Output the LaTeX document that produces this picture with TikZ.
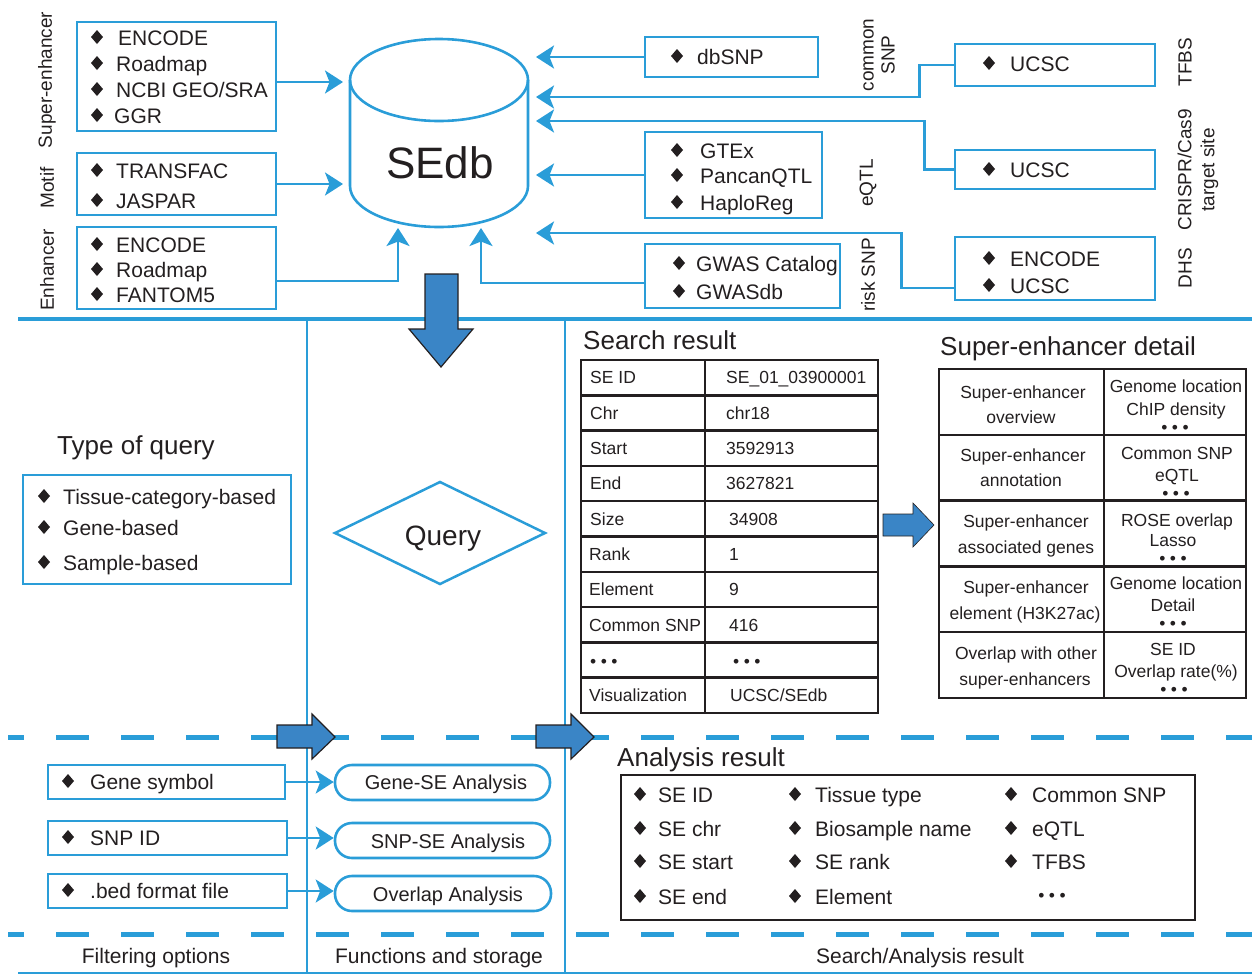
\documentclass[tikz,border=0pt]{standalone}
\usepackage{fontspec}
\setmainfont{Liberation Sans}
\usetikzlibrary{arrows.meta,calc}
\definecolor{lblue}{RGB}{42,157,216}
\definecolor{afill}{RGB}{58,133,198}
\definecolor{ink}{RGB}{35,31,32}
\newcounter{nc}
\newcommand\tx[4][]{\stepcounter{nc}\node[#1] (n\arabic{nc}) at (#2,#3) {#4};}
\newcommand\itm[5][t21]{\fill[ink] (#2,#3-1) -- (#2+6,#3-8) -- (#2+12,#3-1) -- (#2+6,#3+6) -- cycle;
  \tx[#1,anchor=west]{#2+#4}{#3}{#5}}
\newcommand\ddd{•\hspace{4.5pt}•\hspace{4.5pt}•}
\tikzset{
 t21/.style={inner sep=0pt,text=ink,font=\fontsize{21}{25}\selectfont,text height=20pt,text depth=4.9pt},
 t20/.style={inner sep=0pt,text=ink,font=\fontsize{20}{24}\selectfont,text height=19pt,text depth=4.7pt},
 t19/.style={inner sep=0pt,text=ink,font=\fontsize{19}{22}\selectfont,text height=18pt,text depth=4.4pt},
 t17/.style={inner sep=0pt,text=ink,font=\fontsize{17.5}{20}\selectfont,text height=16.6pt,text depth=4.1pt},
 t26/.style={inner sep=0pt,text=ink,font=\fontsize{26}{30}\selectfont,text height=24.7pt,text depth=6.1pt},
 t28/.style={inner sep=0pt,text=ink,font=\fontsize{28}{32}\selectfont,text height=26.6pt,text depth=6.55pt},
 t44/.style={inner sep=0pt,text=ink,font=\fontsize{44}{48}\selectfont,text height=42pt,text depth=10.5pt},
 rot/.style={inner sep=0pt,text=ink,rotate=90,align=center},
 bbox/.style={draw=lblue,line width=2.6pt,inner sep=0pt},
 kbox/.style={draw=ink,line width=2.5pt,inner sep=0pt},
 conn/.style={draw=lblue,line width=2.6pt,-{Stealth[length=18pt,width=23pt,inset=4.5pt]}},
 sline/.style={draw=lblue,line width=2.5pt},
 dline/.style={draw=lblue,line width=5pt,dash pattern=on 33pt off 32pt,dash phase=17pt},
 barrow/.style={fill=afill,draw=ink,line width=1.2pt,line join=miter},
 tbl/.style={draw=ink,line width=2.5pt},
}
\begin{document}
\begin{tikzpicture}[x=1pt,y=-1pt]
\useasboundingbox (0,0) rectangle (1252,975);

% ---------- section lines ----------
\draw[lblue,line width=4pt] (18,319) -- (1252,319);
\draw[sline] (307,319) -- (307,973);
\draw[sline] (565,319) -- (565,973);
\draw[dline] (8,737) -- (1252,737);
\draw[dline] (8,934) -- (1252,934);
\draw[lblue,line width=2pt] (18,973) -- (1252,973);

% ---------- database ----------
\draw[lblue,line width=2.6pt] (439,80) ellipse [x radius=89, y radius=41];
\draw[lblue,line width=2.6pt] (350,80) -- (350,186) arc[start angle=180,end angle=0,x radius=89,y radius=41] -- (528,80);
\node[t44] (db) at (440,163) {SEdb};
\coordinate (dbw1) at (343,82);
\coordinate (dbw2) at (343,184);
\coordinate (dbb1) at (398,228);
\coordinate (dbb2) at (481,228);
\coordinate (dbe1) at (536,57);
\coordinate (dbe2) at (536,97);
\coordinate (dbe3) at (536,121);
\coordinate (dbe4) at (536,175);
\coordinate (dbe5) at (536,233);

% ---------- left sources ----------
\node[bbox,minimum width=199,minimum height=109] (se) at (176.5,76.5) {};
\node[bbox,minimum width=199,minimum height=62] (motif) at (176.5,184) {};
\node[bbox,minimum width=199,minimum height=82] (enh) at (176.5,268) {};
\itm{91}{38}{27}{ENCODE}
\itm{91}{64}{25}{Roadmap}
\itm{91}{90}{25}{NCBI GEO/SRA}
\itm{91}{116}{23}{GGR}
\itm{91}{171}{25}{TRANSFAC}
\itm{91}{201}{25}{JASPAR}
\itm{91}{245}{25}{ENCODE}
\itm{91}{270}{25}{Roadmap}
\itm{91}{295}{25}{FANTOM5}
\node[rot,font=\fontsize{19}{22}\selectfont] (lse) at (47,80) {Super-enhancer};
\node[rot,font=\fontsize{19}{22}\selectfont] (lmo) at (47,188) {Motif};
\node[rot,font=\fontsize{19}{22}\selectfont] (len) at (47,270) {Enhancer};

\draw[conn] ($(se.east)+(0,5.5)$) -- (dbw1);
\draw[conn] (motif.east) -- (dbw2);
\draw[conn] ($(enh.east)+(0,13)$) -| (dbb1);

% ---------- right sources ----------
\node[bbox,minimum width=173,minimum height=40] (dbsnp) at (731.5,57) {};
\node[bbox,minimum width=177,minimum height=86] (eqtl) at (733.5,175) {};
\node[bbox,minimum width=195,minimum height=64] (gwas) at (742.5,276) {};
\node[bbox,minimum width=200,minimum height=42] (tfbs) at (1055,65) {};
\node[bbox,minimum width=200,minimum height=39] (crispr) at (1055,169.5) {};
\node[bbox,minimum width=200,minimum height=63] (dhs) at (1055,268.5) {};
\itm{671}{57}{26}{dbSNP}
\itm{671}{151}{29}{GTEx}
\itm{671}{176}{29}{PancanQTL}
\itm{671}{203}{29}{HaploReg}
\itm{673}{264}{23}{GWAS Catalog}
\itm{673}{292}{23}{GWASdb}
\itm{983}{64}{27}{UCSC}
\itm{983}{170}{27}{UCSC}
\itm{983}{259}{27}{ENCODE}
\itm{983}{286}{27}{UCSC}
\node[rot,font=\fontsize{19}{21}\selectfont] (lcs) at (879,55) {common\\SNP};
\node[rot,font=\fontsize{19}{22}\selectfont] (leq) at (868,183) {eQTL};
\node[rot,font=\fontsize{19}{22}\selectfont] (lrs) at (868,275) {risk SNP};
\node[rot,font=\fontsize{19}{22}\selectfont] (ltf) at (1185,62) {TFBS};
\node[rot,font=\fontsize{19}{23}\selectfont] (lcr) at (1198,170) {CRISPR/Cas9\\target site};
\node[rot,font=\fontsize{19}{22}\selectfont] (ldh) at (1185,268) {DHS};

\draw[conn] (dbsnp.west) -- (dbe1);
\draw[conn] (tfbs.west) -- ++(-34,0) |- (dbe2);
\draw[conn] (crispr.west) -- ++(-29,0) |- (dbe3);
\draw[conn] (eqtl.west) -- (dbe4);
\draw[conn] ($(dhs.west)+(0,19.5)$) -- ++(-52,0) |- (dbe5);
\draw[conn] ($(gwas.west)+(0,7)$) -| (dbb2);

% ---------- big block arrows ----------
\draw[barrow] (425,274) -- (458,274) -- (458,329) -- (473,329) -- (441,367) -- (409,329) -- (425,329) -- cycle;
\draw[barrow] (277,725) -- (312,725) -- (312,714) -- (335,737) -- (312,759) -- (312,748) -- (277,748) -- cycle;
\draw[barrow] (536,725) -- (571,725) -- (571,714) -- (594,737) -- (571,759) -- (571,748) -- (536,748) -- cycle;
\draw[barrow,line width=0.6pt] (883,514) -- (913,514) -- (913,503) -- (934,525) -- (913,547) -- (913,536) -- (883,536) -- cycle;

% ---------- type of query ----------
\node[t26] (tqt) at (136,445) {Type of query};
\node[bbox,minimum width=268,minimum height=109] (tq) at (157,529.5) {};
\itm[t21]{38}{497}{25}{Tissue-category-based}
\itm[t21]{38}{528}{25}{Gene-based}
\itm[t21]{38}{563}{25}{Sample-based}
\draw[lblue,line width=2.5pt] (335,533) -- (440,482) -- (545,533) -- (440,584) -- cycle;
\node[t28] (query) at (443,535) {Query};

% ---------- search result ----------
\node[t26,anchor=west] (srt) at (583,340) {Search result};
\node[kbox,minimum width=297,minimum height=353] (stab) at (729.5,536.5) {};
\foreach \k in {1,...,9} \draw[tbl] (581,360+35.3*\k) -- (878,360+35.3*\k);
\draw[tbl] (705,360) -- (705,713);
\tx[t17,anchor=west]{590}{377.7}{SE ID}
\tx[t17,anchor=west]{590}{413}{Chr}
\tx[t17,anchor=west]{590}{448.3}{Start}
\tx[t17,anchor=west]{590}{483.6}{End}
\tx[t17,anchor=west]{590}{518.9}{Size}
\tx[t17,anchor=west]{589}{554.2}{Rank}
\tx[t17,anchor=west]{589}{589.5}{Element}
\tx[t17,anchor=west]{589}{624.8}{Common SNP}
\tx[t17,anchor=west]{590}{661}{\ddd}
\tx[t17,anchor=west]{589}{695.4}{Visualization}
\tx[t17,anchor=west]{726}{377.7}{SE\_01\_03900001}
\tx[t17,anchor=west]{726}{413}{chr18}
\tx[t17,anchor=west]{726}{448.3}{3592913}
\tx[t17,anchor=west]{726}{483.6}{3627821}
\tx[t17,anchor=west]{729}{518.9}{34908}
\tx[t17,anchor=west]{729}{554.2}{1}
\tx[t17,anchor=west]{729}{589.5}{9}
\tx[t17,anchor=west]{729}{624.8}{416}
\tx[t17,anchor=west]{733}{661}{\ddd}
\tx[t17,anchor=west]{730}{695.4}{UCSC/SEdb}

% ---------- super-enhancer detail ----------
\node[t26,anchor=west] (sdt) at (940,346) {Super-enhancer detail};
\node[kbox,minimum width=307,minimum height=329] (dtab) at (1092.5,533.5) {};
\foreach \k in {1,...,4} \draw[tbl] (939,369+65.8*\k) -- (1246,369+65.8*\k);
\draw[tbl] (1104,369) -- (1104,698);
\tx[t17]{1023}{392}{Super-enhancer}
\tx[t17]{1021}{417}{overview}
\tx[t17]{1023}{455}{Super-enhancer}
\tx[t17]{1021}{480}{annotation}
\tx[t17]{1026}{521}{Super-enhancer}
\tx[t17]{1026}{547}{associated genes}
\tx[t17]{1026}{587}{Super-enhancer}
\tx[t17]{1025}{613}{element (H3K27ac)}
\tx[t17]{1026}{653}{Overlap with other}
\tx[t17]{1025}{679}{super-enhancers}
\tx[t17]{1176}{386}{Genome location}
\tx[t17]{1176}{409}{ChIP density}
\tx[t17]{1175}{427}{\ddd}
\tx[t17]{1177}{453}{Common SNP}
\tx[t17]{1177}{475}{eQTL}
\tx[t17]{1176}{493}{\ddd}
\tx[t17]{1177}{520}{ROSE overlap}
\tx[t17]{1173}{540}{Lasso}
\tx[t17]{1173}{558}{\ddd}
\tx[t17]{1176}{583}{Genome location}
\tx[t17]{1173}{605}{Detail}
\tx[t17]{1173}{623}{\ddd}
\tx[t17]{1173}{649}{SE ID}
\tx[t17]{1176}{671}{Overlap rate(\%)}
\tx[t17]{1174}{689}{\ddd}

% ---------- analysis result ----------
\node[t26,anchor=west] (art) at (617,757) {Analysis result};
\node[kbox,minimum width=574,minimum height=145] (ar) at (908,847.5) {};
\itm{634}{795}{24}{SE ID}
\itm{634}{829}{24}{SE chr}
\itm{634}{862}{24}{SE start}
\itm{634}{897}{24}{SE end}
\itm{789}{795}{26}{Tissue type}
\itm{789}{829}{26}{Biosample name}
\itm{789}{862}{26}{SE rank}
\itm{789}{897}{26}{Element}
\itm{1005}{795}{27}{Common SNP}
\itm{1005}{829}{27}{eQTL}
\itm{1005}{862}{27}{TFBS}
\tx[t17]{1052}{895}{\ddd}

% ---------- filtering / functions ----------
\node[bbox,minimum width=237,minimum height=34] (gs) at (166.5,782) {};
\node[bbox,minimum width=239,minimum height=34] (snp) at (167.5,838) {};
\node[bbox,minimum width=239,minimum height=34] (bed) at (167.5,891) {};
\itm{62}{782}{28}{Gene symbol}
\itm{62}{838}{28}{SNP ID}
\itm{62}{891}{28}{.bed format file}
\node[bbox,rounded corners=17pt,minimum width=215,minimum height=35] (ge) at (442.5,782.5) {};
\node[bbox,rounded corners=17pt,minimum width=215,minimum height=35] (sse) at (442.5,840.5) {};
\node[bbox,rounded corners=17pt,minimum width=216,minimum height=35] (ov) at (443,893.5) {};
\tx[t20]{446}{782}{Gene-SE Analysis}
\tx[t20]{448}{841}{SNP-SE Analysis}
\tx[t20]{448}{894}{Overlap Analysis}
\draw[conn] (gs.east) -- (gs.east -| ge.west);
\draw[conn] (snp.east) -- (snp.east -| sse.west);
\draw[conn] (bed.east) -- (bed.east -| ov.west);

% ---------- bottom labels ----------
\tx[t21]{156}{956}{Filtering options}
\tx[t21]{439}{956}{Functions and storage}
\tx[t21]{920}{956}{Search/Analysis result}
\end{tikzpicture}
\end{document}
